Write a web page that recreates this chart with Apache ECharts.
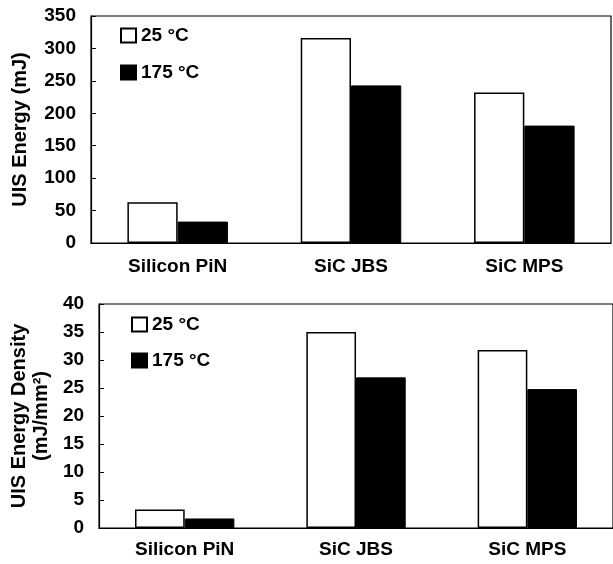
<!DOCTYPE html>
<html>
<head>
<meta charset="utf-8">
<script src="https://cdn.jsdelivr.net/npm/echarts@6/dist/echarts.min.js"></script>
<style>html,body{margin:0;padding:0;background:#fff}#c{width:613px;height:564px}</style>
</head>
<body>
<div id="c"></div>
<script>
const categories = ['Silicon PiN', 'SiC JBS', 'SiC MPS'];
const seriesNames = ['25 °C', '175 °C'];
const energy25 = [63, 316, 232];
const energy175 = [33, 243, 181];
const density25 = [3.3, 35.0, 31.8];
const density175 = [1.7, 26.9, 24.8];
const energyTicks = {min: 0, max: 350, interval: 50};
const densityTicks = {min: 0, max: 40, interval: 5};

const FONT = 'Liberation Sans, Arial, sans-serif';
const chart = echarts.init(document.getElementById('c'), null, {renderer: 'canvas'});

const labelStyle = {color: '#000', fontFamily: FONT, fontWeight: 'bold', fontSize: 19};
function xAxis(idx, margin) {
  return {
    type: 'category', gridIndex: idx, data: categories,
    axisLine: {lineStyle: {color: '#000', width: 1.2}},
    axisTick: {inside: true, length: 5, lineStyle: {color: '#000'}},
    axisLabel: Object.assign({margin: margin}, labelStyle),
    splitLine: {show: false}
  };
}
function yAxis(idx, ticks, name, gap) {
  return {
    type: 'value', gridIndex: idx, min: ticks.min, max: ticks.max, interval: ticks.interval,
    name: name, nameLocation: 'middle', nameGap: gap, nameRotate: 90,
    nameTextStyle: {color: '#000', fontFamily: FONT, fontWeight: 'bold', fontSize: 20, lineHeight: 22},
    axisLine: {show: true, lineStyle: {color: '#000', width: 1.2}},
    axisTick: {show: true, inside: true, length: 5, lineStyle: {color: '#000'}},
    axisLabel: Object.assign({margin: 15}, labelStyle),
    splitLine: {show: false}
  };
}
const whiteStyle = {color: '#fff', borderColor: '#000', borderWidth: 1.5};
const blackStyle = {color: '#000', borderColor: '#000', borderWidth: 1};
function bar(name, data, idx, style) {
  return {
    type: 'bar', name: name, data: data, xAxisIndex: idx, yAxisIndex: idx,
    barGap: '0%', barCategoryGap: '42%', itemStyle: style, animation: false
  };
}
const legendText = {color: '#000', fontFamily: FONT, fontWeight: 'bold', fontSize: 19, lineHeight: 15};

chart.setOption({
  animation: false,
  grid: [
    {left: 91, top: 16, width: 520, height: 227, show: true, borderColor: '#000', borderWidth: 1.2},
    {left: 99, top: 304, width: 518, height: 224, show: true, borderColor: '#000', borderWidth: 1.2}
  ],
  legend: [
    {orient: 'vertical', left: 120, top: 26, padding: 0, itemWidth: 15, itemHeight: 14, itemGap: 18, itemTextGap: 6,
     data: seriesNames, textStyle: legendText, selectedMode: false, icon: 'rect'},
    {orient: 'vertical', left: 131, top: 315, padding: 0, itemWidth: 15, itemHeight: 14, itemGap: 17, itemTextGap: 6,
     data: seriesNames, textStyle: legendText, selectedMode: false, icon: 'rect'}
  ],
  xAxis: [xAxis(0, 14), xAxis(1, 12)],
  yAxis: [yAxis(0, energyTicks, 'UIS Energy (mJ)', 60), yAxis(1, densityTicks, 'UIS Energy Density\n(mJ/mm²)', 46)],
  series: [
    bar(seriesNames[0], energy25, 0, whiteStyle),
    bar(seriesNames[1], energy175, 0, blackStyle),
    bar(seriesNames[0], density25, 1, whiteStyle),
    bar(seriesNames[1], density175, 1, blackStyle)
  ]
});
</script>
</body>
</html>
